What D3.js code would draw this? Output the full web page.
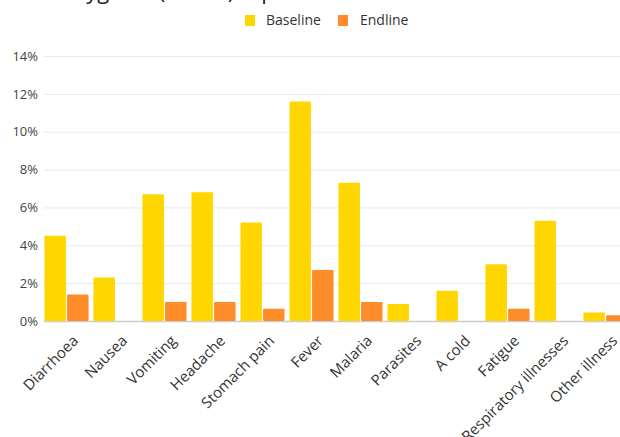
<!DOCTYPE html>
<html>
<head>
<meta charset="utf-8">
<script src="https://cdn.jsdelivr.net/npm/d3@7"></script>
<style>
  html, body { margin: 0; padding: 0; background: #fff; overflow: hidden; }
  svg { display: block; font-family: "Open Sans", sans-serif; }
</style>
</head>
<body>
<svg id="chart" width="620" height="437"></svg>
<script>
const categories = ["Diarrhoea", "Nausea", "Vomiting", "Headache", "Stomach pain", "Fever",
  "Malaria", "Parasites", "A cold", "Fatigue", "Respiratory illnesses", "Other illness"];
const seriesNames = ["Baseline", "Endline"];
const baseline = [4.5, 2.3, 6.7, 6.8, 5.2, 11.6, 7.3, 0.9, 1.6, 3.0, 5.3, 0.45];
const endline  = [1.4, 0,   1.0, 1.0, 0.65, 2.7, 1.0, 0,   0,   0.65, 0,  0.3];
const yTicks = [0, 2, 4, 6, 8, 10, 12, 14];
const colors = ["#FFD600", "#FF8C2B"];
const titleText = "Hygiene (WASH) reported";

const svg = d3.select("#chart");
const W = 620;

const y = d3.scaleLinear().domain([0, 14]).range([321, 56]);
const x0 = d3.scaleBand().domain(categories).range([42, 630]).paddingInner(0.1).paddingOuter(0.05);
const x1 = d3.scaleBand().domain(seriesNames).range([0, x0.bandwidth()]).paddingInner(0.05);
const color = d3.scaleOrdinal().domain(seriesNames).range(colors);

// title (cut off at the top edge, as in the reference)
svg.append("text").attr("x", 70).attr("y", -1).attr("font-size", 22).attr("fill", "#222").text(titleText);

// gridlines
const yAxis = d3.axisLeft(y).tickValues(yTicks).tickSize(-(W - 44)).tickFormat(d => d + "%");
const gy = svg.append("g").attr("transform", "translate(44,0)").call(yAxis);
gy.select(".domain").remove();
gy.selectAll(".tick line").attr("stroke", d => d === 0 ? "#cccccc" : "#e8e8e8").attr("stroke-width", d => d === 0 ? 1.5 : 1);
gy.selectAll(".tick text").attr("x", -6).attr("font-size", 13).attr("fill", "#444").attr("font-family", "Open Sans");

// bars
const data = categories.map((c, i) => ({ cat: c, values: [
  { key: "Baseline", v: baseline[i] }, { key: "Endline", v: endline[i] }] }));
const groups = svg.append("g").selectAll("g").data(data).join("g")
  .attr("transform", d => `translate(${x0(d.cat)},0)`);
groups.selectAll("rect").data(d => d.values.filter(e => e.v > 0)).join("rect")
  .attr("x", d => x1(d.key))
  .attr("width", x1.bandwidth())
  .attr("y", d => y(d.v))
  .attr("height", d => y(0) - y(d.v))
  .attr("rx", 1)
  .attr("fill", d => color(d.key));

// x labels
const xAxis = d3.axisBottom(x0).tickSize(0);
const gx = svg.append("g").attr("transform", `translate(0,${y(0)})`).call(xAxis);
gx.select(".domain").remove();
gx.selectAll(".tick text")
  .attr("font-size", 15).attr("fill", "#333").attr("font-family", "Open Sans")
  .attr("text-anchor", "end")
  .attr("transform", "translate(9,17) rotate(-45)")
  .attr("dy", "0.35em").attr("y", 0).attr("x", 0);

// legend
const legend = svg.append("g");
const items = [{ k: "Baseline", sx: 245, tx: 266 }, { k: "Endline", sx: 338, tx: 360 }];
items.forEach(it => {
  legend.append("rect").attr("x", it.sx).attr("y", 15).attr("width", 10).attr("height", 11).attr("fill", color(it.k));
  legend.append("text").attr("x", it.tx).attr("y", 25).attr("font-size", 14).attr("fill", "#333").text(it.k);
});
</script>
</body>
</html>
